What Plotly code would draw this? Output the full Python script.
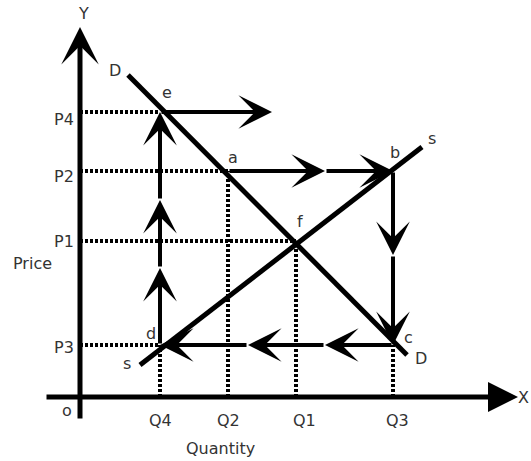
import plotly.graph_objects as go

# ---- data (diagram units: origin of the axes = (0, 0)) ----
q_labels = ["Q4", "Q2", "Q1", "Q3"]
q_values = [80, 148, 216, 313]
p_labels = ["P4", "P2", "P1", "P3"]
p_values = [285, 226, 156, 52]

demand_x = [48, 327]
demand_y = [322, 42]
supply_x = [60, 342]
supply_y = [32, 250]

# cobweb points
pt_names = ["a", "b", "c", "d", "e", "f"]
pt_x = [148, 313, 313, 80, 80, 216]
pt_y = [226, 226, 52, 52, 285, 156]

# intermediate arrowhead positions along the cobweb path
mid_ab_x = [245]
mid_bc_y = [142]
mid_cd_x = [245, 168]
mid_de_y = [129, 197]
e_out_x = [192]

X_RANGE = [-80, 451]
Y_RANGE = [-64, 397]

FONT = dict(family="DejaVu Sans", size=16, color="#333333")
BLACK = "#000000"

fig = go.Figure()

# demand and supply lines
fig.add_trace(go.Scatter(x=demand_x, y=demand_y, mode="lines",
                         line=dict(color=BLACK, width=5), hoverinfo="skip"))
fig.add_trace(go.Scatter(x=supply_x, y=supply_y, mode="lines",
                         line=dict(color=BLACK, width=5), hoverinfo="skip"))

# dotted guide lines
P = dict(zip(p_labels, p_values))
Q = dict(zip(q_labels, q_values))
pts = {n: (x, y) for n, x, y in zip(pt_names, pt_x, pt_y)}
dot = dict(color=BLACK, width=4, dash="3px,2px")
for name, plabel in [("e", "P4"), ("a", "P2"), ("f", "P1"), ("d", "P3")]:
    fig.add_trace(go.Scatter(x=[0, pts[name][0]], y=[P[plabel], P[plabel]],
                             mode="lines", line=dot, hoverinfo="skip"))
for name, qlabel in [("d", "Q4"), ("a", "Q2"), ("f", "Q1"), ("c", "Q3")]:
    fig.add_trace(go.Scatter(x=[Q[qlabel], Q[qlabel]], y=[0, pts[name][1]],
                             mode="lines", line=dot, hoverinfo="skip"))

annotations = []


def arrow(x0, y0, x1, y1, width=4, size=1.4, head=3):
    annotations.append(dict(x=x1, y=y1, ax=x0, ay=y0, xref="x", yref="y",
                            axref="x", ayref="y", showarrow=True, text="",
                            arrowhead=head, arrowwidth=width, arrowsize=size,
                            arrowcolor=BLACK, standoff=0, startstandoff=0))


# axes
arrow(0, -23, 0, 370, width=5, size=1.25, head=3)
arrow(-35, 0, 438, 0, width=5, size=1.2, head=2)

ax_, ay_ = pts["a"]
bx, by = pts["b"]
cx, cy = pts["c"]
dx, dy = pts["d"]
ex, ey = pts["e"]

# a -> b
arrow(ax_, ay_, mid_ab_x[0], ay_)
arrow(mid_ab_x[0], ay_, bx, by)
# b -> c
arrow(bx, by, bx, mid_bc_y[0])
arrow(bx, mid_bc_y[0], cx, cy)
# c -> d
arrow(cx, cy, mid_cd_x[0], cy)
arrow(mid_cd_x[0], cy, mid_cd_x[1], cy)
arrow(mid_cd_x[1], cy, dx, dy)
# d -> e
arrow(dx, dy, dx, mid_de_y[0])
arrow(dx, mid_de_y[0], dx, mid_de_y[1])
arrow(dx, mid_de_y[1], ex, ey)
# e -> right
arrow(ex, ey, e_out_x[0], ey)


def label(text, x, y, **kw):
    annotations.append(dict(x=x, y=y, xref="x", yref="y", text=text,
                            showarrow=False, font=FONT, **kw))


p_label_dy = {"P4": -7, "P2": -5, "P1": 0, "P3": -2}
for t, v in zip(p_labels, p_values):
    label(t, -16, v + p_label_dy[t])
q_label_dx = {"Q4": 0, "Q2": 0, "Q1": 8, "Q3": 4}
for t, v in zip(q_labels, q_values):
    label(t, v + q_label_dx[t], -23)

label("Y", 3, 384)
label("X", 443, 0)
label("o", -13, -13)
label("Price", -48, 134)
label("Quantity", 140, -51)
label("D", 35, 327)
label("D", 341, 39)
label("s", 352, 259)
label("s", 47, 34)
label("e", 87, 305)
label("a", 153, 240)
label("b", 315, 245)
label("f", 220, 176)
label("c", 328, 60)
label("d", 71, 64)

fig.update_layout(
    width=531, height=461,
    margin=dict(l=0, r=0, t=0, b=0),
    paper_bgcolor="white", plot_bgcolor="white",
    showlegend=False,
    xaxis=dict(range=X_RANGE, visible=False, fixedrange=True),
    yaxis=dict(range=Y_RANGE, visible=False, fixedrange=True),
    annotations=annotations,
)

fig.write_html("out.html", config={"displayModeBar": False},
               post_script="document.body.style.margin='0';")
